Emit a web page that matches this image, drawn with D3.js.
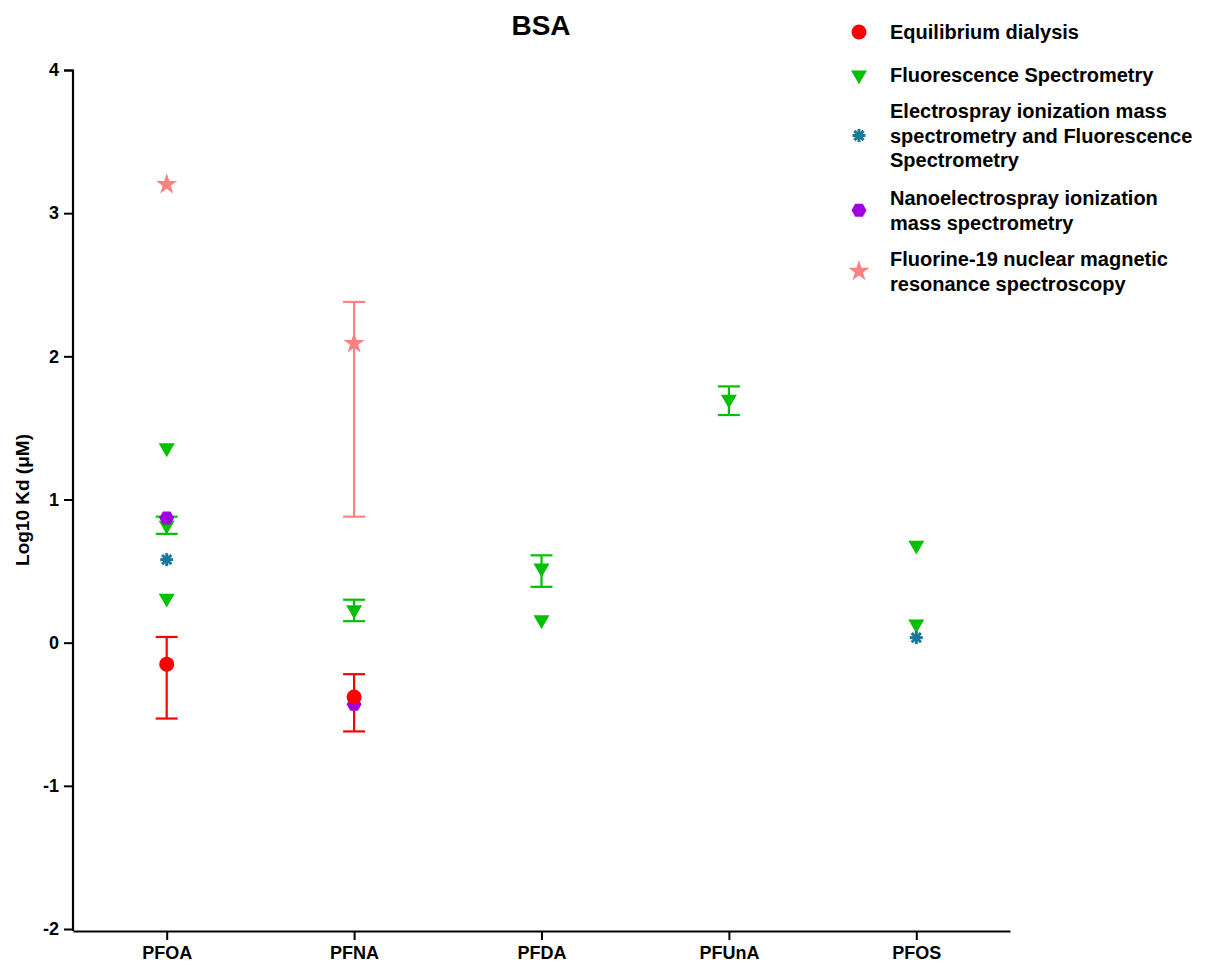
<!DOCTYPE html>
<html><head><meta charset="utf-8">
<script src="https://cdn.jsdelivr.net/npm/d3@7/dist/d3.min.js"></script>
<style>
body{margin:0;background:#fff;}
text{font-family:"Liberation Sans",Arial,sans-serif;font-weight:bold;fill:#000;}
</style></head>
<body><svg id="c" width="1216" height="966"></svg>
<script>
const categories = ["PFOA","PFNA","PFDA","PFUnA","PFOS"];
const yTicks = [-2,-1,0,1,2,3,4];
// [category, value, lowerEnd, upperEnd]
const equilibrium = [["PFOA",-0.15,-0.53,0.04],["PFNA",-0.38,-0.62,-0.22]];
const fluorescence = [["PFOA",1.36,null,null],["PFOA",0.82,0.76,0.88],["PFOA",0.31,null,null],
  ["PFNA",0.23,0.15,0.30],["PFDA",0.52,0.39,0.61],["PFDA",0.16,null,null],
  ["PFUnA",1.70,1.59,1.79],["PFOS",0.68,null,null],["PFOS",0.13,null,null]];
const esiFluor = [["PFOA",0.58,null,null],["PFOS",0.035,null,null]];
const nanoEsi = [["PFOA",0.87,null,null],["PFNA",-0.43,null,null]];
const nmr = [["PFOA",3.20,null,null],["PFNA",2.09,0.88,2.38]];

const svg = d3.select("#c");
const x = d3.scalePoint().domain(categories).range([73,1010]).padding(0.5);
const y = d3.scaleLinear().domain([-2,4]).range([929,70]);

svg.append("text").attr("x",541).attr("y",35).attr("text-anchor","middle").style("font-size","28px").text("BSA");

// axes
const yAx = svg.append("g").attr("transform","translate(73,0)")
  .call(d3.axisLeft(y).tickValues(yTicks).tickSize(9).tickPadding(5).tickFormat(d=>d<0?"-"+(-d):d));
yAx.select(".domain").attr("stroke-width",2.2).attr("d","M-9,70.5H0V931");
yAx.selectAll(".tick line").attr("stroke-width",2);
yAx.selectAll(".tick text").style("font-size","18px").style("font-family","Liberation Sans").style("font-weight","bold");
const xAx = svg.append("g").attr("transform","translate(0,931)")
  .call(d3.axisBottom(x).tickSize(9).tickPadding(6).tickSizeOuter(0));
xAx.select(".domain").attr("stroke-width",2.2);
xAx.selectAll(".tick line").attr("stroke-width",2);
xAx.selectAll(".tick text").style("font-size","18px").style("font-family","Liberation Sans").style("font-weight","bold");

svg.append("text").attr("transform","translate(29,500) rotate(-90)").attr("text-anchor","middle")
  .style("font-size","19px").text("Log10 Kd (μM)");

const hexPath = (r)=>{const p=d3.path();for(let i=0;i<6;i++){const a=Math.PI/3*i;const px=r*Math.cos(a),py=r*Math.sin(a);i?p.lineTo(px,py):p.moveTo(px,py);}p.closePath();return p.toString();};
const triPath = d3.symbol(d3.symbolTriangle, 110)();
const starPath = d3.symbol(d3.symbolStar, 140)();
function asterisk(g,color){
  for(let i=0;i<4;i++){const a=Math.PI/4*i;const r=6.5;
    g.append("line").attr("x1",-r*Math.cos(a)).attr("y1",-r*Math.sin(a)).attr("x2",r*Math.cos(a)).attr("y2",r*Math.sin(a))
     .attr("stroke",color).attr("stroke-width",3);}
}
const series = [
  {data:fluorescence,color:"#00c000",mark:"tri",name:["Fluorescence Spectrometry"]},
  {data:esiFluor,color:"#19799a",mark:"ast",name:["Electrospray ionization mass","spectrometry and Fluorescence","Spectrometry"]},
  {data:nanoEsi,color:"#a000e0",mark:"hex",name:["Nanoelectrospray ionization","mass spectrometry"]},
  {data:equilibrium,color:"#ff0000",mark:"circ",name:["Equilibrium dialysis"]},
  {data:nmr,color:"#ff8080",mark:"star",name:["Fluorine-19 nuclear magnetic","resonance spectroscopy"]}
];
function drawMark(g,s){
  if(s.mark==="tri") g.append("path").attr("d",triPath).attr("transform","rotate(180)").attr("fill",s.color);
  else if(s.mark==="ast") asterisk(g,s.color);
  else if(s.mark==="hex") g.append("path").attr("d",hexPath(7.5)).attr("fill",s.color);
  else if(s.mark==="circ") g.append("circle").attr("r",7.5).attr("fill",s.color);
  else if(s.mark==="star") g.append("path").attr("d",starPath).attr("fill",s.color);
}
// error bars
series.forEach(s=>{
  s.data.filter(d=>d[2]!==null).forEach(d=>{
    const cx=x(d[0]);
    const g=svg.append("g").attr("stroke",s.color).attr("stroke-width",2.2);
    g.append("line").attr("x1",cx).attr("x2",cx).attr("y1",y(d[2])).attr("y2",y(d[3]));
    [d[2],d[3]].forEach(v=>g.append("line").attr("x1",cx-11).attr("x2",cx+11).attr("y1",y(v)).attr("y2",y(v)));
  });
});
series.forEach(s=>{
  s.data.forEach(d=>{
    const g=svg.append("g").attr("transform",`translate(${x(d[0])},${y(d[1])})`);
    drawMark(g,s);
  });
});
// legend
const legendOrder=[3,0,1,2,4];
const legendTop=[32,75,111,198,259];
const lh=24.5;
legendOrder.forEach((si,i)=>{
  const s=series[si];const n=s.name.length;
  const cy=legendTop[i]+(n-1)*lh/2;
  const g=svg.append("g").attr("transform",`translate(859,${cy})`);
  drawMark(g,s);
  s.name.forEach((t,j)=>svg.append("text").attr("x",890).attr("y",legendTop[i]+j*lh+7).style("font-size","20px").text(t));
});
</script></body></html>
